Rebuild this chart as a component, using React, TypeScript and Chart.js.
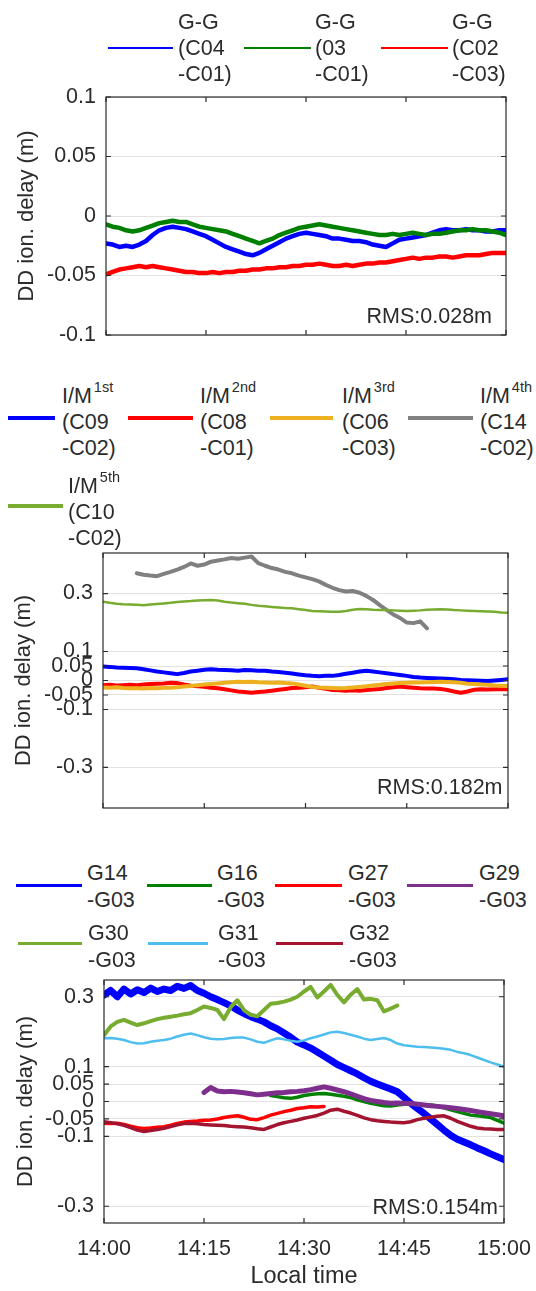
import React, { useEffect, useRef } from 'react';
import { Chart, registerables } from 'chart.js';

Chart.register(...registerables);

const FONT = "'Liberation Sans', Arial, Helvetica, sans-serif";
const INK = '#2b2b2b';
const GRID = '#e2e2e2';

// ---------- shared x axis (minutes after 14:00) ----------
const MINUTES = [
  0, 1, 2, 3, 4, 5, 6, 7, 8, 9, 10, 11, 12, 13, 14, 15, 16, 17, 18, 19, 20,
  21, 22, 23, 24, 25, 26, 27, 28, 29, 30, 31, 32, 33, 34, 35, 36, 37, 38, 39, 40,
  41, 42, 43, 44, 45, 46, 47, 48, 49, 50, 51, 52, 53, 54, 55, 56, 57, 58, 59, 60,
];
const X_TICKS = [0, 15, 30, 45, 60];
const X_TICK_LABELS = ['14:00', '14:15', '14:30', '14:45', '15:00'];

// ---------- panel 1 : G-G ----------
const P1_Y_TICKS = [-0.1, -0.05, 0, 0.05, 0.1];
const GG_C04_C01 = [
  -0.023, -0.024, -0.026, -0.025, -0.026, -0.024, -0.021, -0.016, -0.012, -0.010, -0.009,
  -0.010, -0.011, -0.013, -0.015, -0.017, -0.020, -0.023, -0.026, -0.028, -0.030,
  -0.032, -0.033, -0.031, -0.028, -0.025, -0.022, -0.019, -0.017, -0.015, -0.014,
  -0.015, -0.016, -0.017, -0.019, -0.019, -0.020, -0.021, -0.021, -0.022, -0.024,
  -0.025, -0.026, -0.023, -0.020, -0.019, -0.018, -0.017, -0.016, -0.014, -0.012,
  -0.011, -0.012, -0.012, -0.011, -0.012, -0.012, -0.013, -0.013, -0.012, -0.012,
];
const GG_03_C01 = [
  -0.007, -0.009, -0.010, -0.012, -0.013, -0.012, -0.010, -0.008, -0.006, -0.005, -0.004,
  -0.005, -0.005, -0.007, -0.009, -0.010, -0.011, -0.012, -0.013, -0.015, -0.017,
  -0.019, -0.021, -0.023, -0.021, -0.019, -0.016, -0.014, -0.012, -0.010, -0.009,
  -0.008, -0.007, -0.008, -0.009, -0.010, -0.011, -0.012, -0.013, -0.014, -0.015,
  -0.016, -0.016, -0.015, -0.016, -0.015, -0.014, -0.015, -0.016, -0.015, -0.015,
  -0.014, -0.013, -0.012, -0.012, -0.011, -0.012, -0.012, -0.013, -0.014, -0.016,
];
const GG_C02_C03 = [
  -0.049, -0.047, -0.045, -0.044, -0.043, -0.042, -0.043, -0.042, -0.043, -0.044, -0.045,
  -0.046, -0.047, -0.047, -0.048, -0.048, -0.047, -0.048, -0.047, -0.047, -0.046,
  -0.046, -0.045, -0.045, -0.044, -0.044, -0.043, -0.043, -0.042, -0.042, -0.041,
  -0.041, -0.040, -0.041, -0.042, -0.042, -0.041, -0.042, -0.041, -0.040, -0.040,
  -0.039, -0.039, -0.038, -0.037, -0.036, -0.035, -0.036, -0.035, -0.035, -0.034,
  -0.034, -0.035, -0.034, -0.033, -0.033, -0.033, -0.032, -0.031, -0.031, -0.031,
];

// ---------- panel 2 : I/M ----------
const P2_Y_TICKS = [-0.3, -0.1, -0.05, 0, 0.05, 0.1, 0.3];
const IM1_C09_C02 = [
  0.048, 0.047, 0.045, 0.044, 0.043, 0.042, 0.039, 0.035, 0.031, 0.028, 0.025,
  0.022, 0.026, 0.031, 0.034, 0.037, 0.039, 0.037, 0.036, 0.035, 0.034,
  0.036, 0.035, 0.034, 0.034, 0.031, 0.029, 0.027, 0.024, 0.021, 0.018,
  0.016, 0.015, 0.016, 0.016, 0.019, 0.023, 0.027, 0.031, 0.034, 0.031,
  0.028, 0.025, 0.022, 0.019, 0.016, 0.012, 0.010, 0.009, 0.008, 0.007,
  0.006, 0.004, 0.002, 0.001, 0.000, -0.001, -0.002, 0.000, 0.002, 0.004,
];
const IM2_C08_C01 = [
  -0.016, -0.015, -0.017, -0.016, -0.015, -0.016, -0.014, -0.012, -0.011, -0.010, -0.008,
  -0.009, -0.014, -0.018, -0.020, -0.022, -0.025, -0.027, -0.030, -0.034, -0.038,
  -0.040, -0.042, -0.040, -0.038, -0.035, -0.032, -0.029, -0.026, -0.025, -0.023,
  -0.021, -0.025, -0.029, -0.033, -0.034, -0.035, -0.034, -0.035, -0.033, -0.031,
  -0.029, -0.026, -0.023, -0.021, -0.023, -0.025, -0.027, -0.028, -0.028, -0.029,
  -0.033, -0.038, -0.042, -0.038, -0.032, -0.030, -0.031, -0.030, -0.030, -0.030,
];
const IM3_C06_C03 = [
  -0.024, -0.025, -0.023, -0.026, -0.027, -0.027, -0.028, -0.026, -0.027, -0.025, -0.025,
  -0.023, -0.021, -0.019, -0.016, -0.014, -0.012, -0.010, -0.008, -0.006, -0.004,
  -0.005, -0.004, -0.006, -0.007, -0.008, -0.007, -0.009, -0.010, -0.014, -0.018,
  -0.022, -0.024, -0.025, -0.026, -0.027, -0.026, -0.024, -0.022, -0.020, -0.017,
  -0.015, -0.012, -0.010, -0.009, -0.008, -0.007, -0.007, -0.006, -0.005, -0.004,
  -0.005, -0.006, -0.008, -0.011, -0.012, -0.014, -0.015, -0.017, -0.018, -0.019,
];
const IM4_START = 5; // C14-C02 starts at 14:05 and ends at 14:48
const IM4_C14_C02 = [
  0.370, 0.365, 0.362, 0.360, 0.368, 0.375, 0.383, 0.392, 0.404, 0.396,
  0.400, 0.410, 0.414, 0.418, 0.423, 0.420, 0.424, 0.428, 0.405, 0.396,
  0.388, 0.383, 0.375, 0.370, 0.362, 0.356, 0.350, 0.342, 0.330, 0.320,
  0.312, 0.307, 0.309, 0.303, 0.292, 0.278, 0.260, 0.244, 0.228, 0.216,
  0.200, 0.198, 0.204, 0.180,
];
const IM5_C10_C02 = [
  0.272, 0.268, 0.265, 0.263, 0.262, 0.261, 0.260, 0.262, 0.264, 0.266, 0.268,
  0.271, 0.273, 0.274, 0.276, 0.277, 0.278, 0.276, 0.272, 0.269, 0.267,
  0.265, 0.261, 0.258, 0.256, 0.254, 0.252, 0.250, 0.249, 0.246, 0.243,
  0.240, 0.239, 0.238, 0.237, 0.237, 0.240, 0.244, 0.247, 0.246, 0.244,
  0.243, 0.243, 0.242, 0.241, 0.240, 0.241, 0.242, 0.244, 0.245, 0.246,
  0.245, 0.243, 0.242, 0.241, 0.240, 0.239, 0.238, 0.237, 0.235, 0.234,
];

// ---------- panel 3 : GPS ----------
const P3_Y_TICKS = [-0.3, -0.1, -0.05, 0, 0.05, 0.1, 0.3];
const G14_G03 = [
  0.305, 0.318, 0.300, 0.322, 0.308, 0.320, 0.312, 0.325, 0.315, 0.322, 0.318,
  0.330, 0.324, 0.332, 0.318, 0.310, 0.300, 0.292, 0.283, 0.274, 0.262,
  0.252, 0.243, 0.236, 0.228, 0.217, 0.208, 0.196, 0.184, 0.170, 0.162,
  0.153, 0.142, 0.130, 0.118, 0.106, 0.097, 0.088, 0.079, 0.068, 0.058,
  0.050, 0.043, 0.036, 0.028, 0.012, -0.005, -0.020, -0.034, -0.050, -0.066,
  -0.082, -0.097, -0.108, -0.116, -0.124, -0.133, -0.141, -0.150, -0.158, -0.166,
];
const G16_START = 25;
const G16_G03 = [
  0.017, 0.014, 0.011, 0.009, 0.012, 0.017, 0.020, 0.022, 0.023, 0.021,
  0.018, 0.015, 0.011, 0.005, 0.000, -0.005, -0.009, -0.012, -0.013, -0.010,
  -0.008, -0.007, -0.008, -0.009, -0.010, -0.013, -0.018, -0.024, -0.029, -0.034,
  -0.039, -0.041, -0.043, -0.046, -0.054, -0.062,
];
const G27_G03 = [
  -0.062, -0.063, -0.062, -0.066, -0.071, -0.075, -0.077, -0.076, -0.074, -0.072, -0.068,
  -0.063, -0.059, -0.057, -0.056, -0.054, -0.053, -0.050, -0.046, -0.043, -0.041,
  -0.045, -0.051, -0.052, -0.046, -0.039, -0.034, -0.029, -0.025, -0.020, -0.018,
  -0.015, -0.016, -0.014,
];
const G29_START = 15;
const G29_G03 = [
  0.026, 0.040, 0.030, 0.028, 0.029, 0.027, 0.025, 0.022, 0.019, 0.021,
  0.023, 0.025, 0.026, 0.028, 0.029, 0.031, 0.034, 0.038, 0.042, 0.038,
  0.033, 0.028, 0.022, 0.015, 0.008, 0.003, 0.000, -0.003, -0.005, -0.004,
  -0.005, -0.006, -0.008, -0.010, -0.012, -0.014, -0.016, -0.018, -0.020, -0.023,
  -0.026, -0.029, -0.032, -0.035, -0.038, -0.041,
];
const G30_G03 = [
  0.190, 0.215, 0.228, 0.234, 0.226, 0.219, 0.224, 0.230, 0.236, 0.240, 0.243,
  0.246, 0.250, 0.253, 0.262, 0.272, 0.268, 0.262, 0.236, 0.270, 0.290,
  0.262, 0.248, 0.244, 0.262, 0.280, 0.282, 0.286, 0.292, 0.300, 0.315,
  0.328, 0.298, 0.315, 0.334, 0.305, 0.284, 0.306, 0.322, 0.292, 0.294,
  0.290, 0.258, 0.266, 0.275,
];
const G31_G03 = [
  0.181, 0.182, 0.180, 0.176, 0.170, 0.166, 0.167, 0.171, 0.174, 0.176, 0.180,
  0.186, 0.191, 0.195, 0.190, 0.184, 0.180, 0.178, 0.179, 0.182, 0.183,
  0.183, 0.178, 0.171, 0.168, 0.175, 0.181, 0.178, 0.174, 0.171, 0.175,
  0.181, 0.186, 0.192, 0.198, 0.200, 0.196, 0.191, 0.186, 0.180, 0.176,
  0.179, 0.182, 0.176, 0.166, 0.161, 0.159, 0.157, 0.156, 0.155, 0.153,
  0.151, 0.148, 0.142, 0.138, 0.133, 0.126, 0.119, 0.112, 0.106, 0.100,
];
const G32_G03 = [
  -0.058, -0.061, -0.064, -0.068, -0.075, -0.082, -0.086, -0.083, -0.080, -0.077, -0.072,
  -0.067, -0.063, -0.062, -0.064, -0.066, -0.067, -0.068, -0.069, -0.071, -0.072,
  -0.073, -0.075, -0.078, -0.080, -0.073, -0.066, -0.061, -0.057, -0.053, -0.048,
  -0.044, -0.040, -0.033, -0.025, -0.022, -0.028, -0.033, -0.040, -0.047, -0.052,
  -0.055, -0.057, -0.059, -0.060, -0.061, -0.058, -0.052, -0.048, -0.045, -0.042,
  -0.041, -0.048, -0.057, -0.064, -0.071, -0.076, -0.078, -0.079, -0.080, -0.080,
];

// ---------- legend labels ----------
const P1_LABELS = [
  ['G-G', '(C04', '-C01)'],
  ['G-G', '(03', '-C01)'],
  ['G-G', '(C02', '-C03)'],
];
const P2_ORDINALS = ['1st', '2nd', '3rd', '4th', '5th'];
const P2_LABELS = [
  ['(C09', '-C02)'],
  ['(C08', '-C01)'],
  ['(C06', '-C03)'],
  ['(C14', '-C02)'],
  ['(C10', '-C02)'],
];
const P3_LABELS = [
  ['G14', '-G03'], ['G16', '-G03'], ['G27', '-G03'], ['G29', '-G03'],
  ['G30', '-G03'], ['G31', '-G03'], ['G32', '-G03'],
];
const RMS_TEXT = ['RMS:0.028m', 'RMS:0.182m', 'RMS:0.154m'];

// ---------- colours ----------
const BLUE = '#0000ff';
const GREEN = '#008000';
const RED = '#ff0000';
const ORANGE = '#edb120';
const GREY = '#808080';
const LGREEN = '#77ac30';
const PURPLE = '#7e2f8e';
const LBLUE = '#4dbeee';
const DRED = '#a2142f';

type Series = { label: string; values: number[]; start: number; color: string; width: number };

const toPoints = (values: number[], start: number) =>
  values.map((v, i) => ({ x: MINUTES[start + i], y: v }));

const framePlugin = {
  id: 'frame',
  afterDraw(chart: any) {
    const { ctx, chartArea: a, scales } = chart;
    const x = scales.x;
    const y = scales.y;
    ctx.save();
    ctx.strokeStyle = INK;
    ctx.lineWidth = 1.2;
    ctx.strokeRect(a.left, a.top, a.right - a.left, a.bottom - a.top);
    const L = 5;
    ctx.beginPath();
    x.ticks.forEach((t: any) => {
      const px = x.getPixelForValue(t.value);
      ctx.moveTo(px, a.bottom);
      ctx.lineTo(px, a.bottom - L);
      ctx.moveTo(px, a.top);
      ctx.lineTo(px, a.top + L);
    });
    y.ticks.forEach((t: any) => {
      const py = y.getPixelForValue(t.value);
      ctx.moveTo(a.left, py);
      ctx.lineTo(a.left + L, py);
      ctx.moveTo(a.right, py);
      ctx.lineTo(a.right - L, py);
    });
    ctx.stroke();
    ctx.restore();
  },
};

const rmsPlugin = {
  id: 'rms',
  afterDatasetsDraw(chart: any, _args: any, opts: any) {
    const { ctx, chartArea: a } = chart;
    ctx.save();
    ctx.font = `21.5px ${FONT}`;
    ctx.textAlign = 'right';
    ctx.textBaseline = 'middle';
    const xr = a.right - opts.dx;
    const yc = a.bottom - opts.dy;
    if (opts.bg) {
      const w = ctx.measureText(opts.text).width;
      ctx.fillStyle = '#ffffff';
      ctx.fillRect(xr - w - 2, yc - 11, w + 4, 22);
    }
    ctx.fillStyle = INK;
    ctx.fillText(opts.text, xr, yc);
    ctx.restore();
  },
};

type PanelSpec = {
  series: Series[];
  yMin: number;
  yMax: number;
  yTicks: number[];
  padTop: number;
  padRight: number;
  yWidth: number;
  xHeight: number;
  titlePad: number;
  showX: boolean;
  rms: { text: string; dx: number; dy: number; bg: boolean };
};

function makeChart(canvas: HTMLCanvasElement, spec: PanelSpec) {
  const n = spec.series.length;
  return new Chart(canvas, {
    type: 'line',
    data: {
      datasets: spec.series.map((s, i) => ({
        label: s.label,
        data: toPoints(s.values, s.start),
        borderColor: s.color,
        backgroundColor: s.color,
        borderWidth: s.width,
        pointRadius: 0,
        tension: 0,
        fill: false,
        borderJoinStyle: 'round',
        borderCapStyle: 'round',
        order: n - i,
      })),
    },
    options: {
      animation: false,
      responsive: false,
      maintainAspectRatio: false,
      events: [],
      layout: { padding: { top: spec.padTop, right: spec.padRight, left: 0, bottom: 0 } },
      plugins: {
        legend: { display: false },
        tooltip: { enabled: false },
        rms: spec.rms,
      } as any,
      scales: {
        x: {
          type: 'linear',
          min: 0,
          max: 60,
          afterBuildTicks: (s: any) => {
            s.ticks = X_TICKS.map((v) => ({ value: v }));
          },
          afterFit: (s: any) => {
            s.height = spec.xHeight;
            s.paddingLeft = 0;
            s.paddingRight = 0;
          },
          ticks: {
            display: spec.showX,
            autoSkip: false,
            maxRotation: 0,
            padding: 13,
            color: INK,
            font: { family: FONT, size: 21.5 },
            callback: (v: any) => X_TICK_LABELS[X_TICKS.indexOf(Number(v))],
          },
          grid: { display: false, drawTicks: false },
          border: { display: false },
          title: {
            display: spec.showX,
            text: 'Local time',
            color: INK,
            font: { family: FONT, size: 23.5 },
            padding: { top: 0, bottom: 0 },
          },
        },
        y: {
          type: 'linear',
          min: spec.yMin,
          max: spec.yMax,
          afterBuildTicks: (s: any) => {
            s.ticks = spec.yTicks.map((v) => ({ value: v }));
          },
          afterFit: (s: any) => {
            s.width = spec.yWidth;
            s.paddingTop = 0;
            s.paddingBottom = 0;
          },
          ticks: {
            autoSkip: false,
            padding: 10,
            color: INK,
            font: { family: FONT, size: 21.5 },
            callback: (v: any) => String(v),
          },
          grid: { color: GRID, lineWidth: 1, drawTicks: false },
          border: { display: false },
          title: {
            display: true,
            text: 'DD ion. delay (m)',
            color: INK,
            font: { family: FONT, size: 22 },
            padding: { top: spec.titlePad, bottom: 0 },
          },
        },
      },
    } as any,
    plugins: [framePlugin, rmsPlugin],
  });
}

const PANEL1: PanelSpec = {
  series: [
    { label: 'G-G (C04-C01)', values: GG_C04_C01, start: 0, color: BLUE, width: 4.5 },
    { label: 'G-G (03-C01)', values: GG_03_C01, start: 0, color: GREEN, width: 4.5 },
    { label: 'G-G (C02-C03)', values: GG_C02_C03, start: 0, color: RED, width: 4.5 },
  ],
  yMin: -0.1,
  yMax: 0.1,
  yTicks: P1_Y_TICKS,
  padTop: 27,
  padRight: 30,
  yWidth: 106,
  xHeight: 25,
  titlePad: 13.3,
  showX: false,
  rms: { text: RMS_TEXT[0], dx: 14, dy: 18, bg: false },
};

const PANEL2: PanelSpec = {
  series: [
    { label: 'I/M 1st (C09-C02)', values: IM1_C09_C02, start: 0, color: BLUE, width: 4 },
    { label: 'I/M 2nd (C08-C01)', values: IM2_C08_C01, start: 0, color: RED, width: 4 },
    { label: 'I/M 3rd (C06-C03)', values: IM3_C06_C03, start: 0, color: ORANGE, width: 4 },
    { label: 'I/M 4th (C14-C02)', values: IM4_C14_C02, start: IM4_START, color: GREY, width: 4 },
    { label: 'I/M 5th (C10-C02)', values: IM5_C10_C02, start: 0, color: LGREEN, width: 2.5 },
  ],
  yMin: -0.44,
  yMax: 0.44,
  yTicks: P2_Y_TICKS,
  padTop: 13,
  padRight: 28,
  yWidth: 103,
  xHeight: 22,
  titlePad: 10.8,
  showX: false,
  rms: { text: RMS_TEXT[1], dx: 5.5, dy: 20, bg: false },
};

const PANEL3: PanelSpec = {
  series: [
    { label: 'G14-G03', values: G14_G03, start: 0, color: BLUE, width: 7 },
    { label: 'G16-G03', values: G16_G03, start: G16_START, color: GREEN, width: 3.5 },
    { label: 'G27-G03', values: G27_G03, start: 0, color: RED, width: 3.5 },
    { label: 'G29-G03', values: G29_G03, start: G29_START, color: PURPLE, width: 5 },
    { label: 'G30-G03', values: G30_G03, start: 0, color: LGREEN, width: 4 },
    { label: 'G31-G03', values: G31_G03, start: 0, color: LBLUE, width: 2.5 },
    { label: 'G32-G03', values: G32_G03, start: 0, color: DRED, width: 3.5 },
  ],
  yMin: -0.348,
  yMax: 0.348,
  yTicks: P3_Y_TICKS,
  padTop: 20,
  padRight: 32,
  yWidth: 104,
  xHeight: 68,
  titlePad: 12.3,
  showX: true,
  rms: { text: RMS_TEXT[2], dx: 6, dy: 15, bg: true },
};

type LegendEntry = {
  color: string;
  thick: number;
  lineX: number;
  lineW: number;
  lineY: number;
  textX: number;
  textTop: number;
  lh: number;
  lines: React.ReactNode[];
};

const P1_LEGEND: LegendEntry[] = [
  { color: BLUE, thick: 2, lineX: 108, lineW: 65, lineY: 48, textX: 178, textTop: 9.2, lh: 26, lines: P1_LABELS[0] },
  { color: GREEN, thick: 2, lineX: 244, lineW: 67, lineY: 48, textX: 315, textTop: 9.2, lh: 26, lines: P1_LABELS[1] },
  { color: RED, thick: 2, lineX: 381, lineW: 67, lineY: 48, textX: 452, textTop: 9.2, lh: 26, lines: P1_LABELS[2] },
];

const imHead = (k: number) => (
  <span>
    I/M
    <span style={{ fontSize: 14.5, position: 'relative', top: -11, marginLeft: 2, lineHeight: 0 }}>
      {P2_ORDINALS[k]}
    </span>
  </span>
);

const P2_GEOM = [
  { color: BLUE, lineX: 8, lineW: 47, lineY: 418, textX: 62, textTop: 383.2 },
  { color: RED, lineX: 128, lineW: 65, lineY: 418, textX: 200, textTop: 383.2 },
  { color: ORANGE, lineX: 270, lineW: 63, lineY: 418, textX: 342, textTop: 383.2 },
  { color: GREY, lineX: 408, lineW: 65, lineY: 418, textX: 480, textTop: 383.2 },
  { color: LGREEN, lineX: 8, lineW: 55, lineY: 506, textX: 68, textTop: 473.2 },
];
const P2_LEGEND: LegendEntry[] = P2_GEOM.map((g, k) => ({
  ...g,
  thick: 3.5,
  lh: 26,
  lines: [imHead(k), ...P2_LABELS[k]],
}));

const P3_GEOM = [
  { color: BLUE, lineX: 16, lineW: 66, lineY: 885, textX: 87, textTop: 859.7 },
  { color: GREEN, lineX: 147, lineW: 65, lineY: 885, textX: 217, textTop: 859.7 },
  { color: RED, lineX: 275, lineW: 67, lineY: 885, textX: 348, textTop: 859.7 },
  { color: PURPLE, lineX: 407, lineW: 66, lineY: 885, textX: 479, textTop: 859.7 },
  { color: LGREEN, lineX: 18, lineW: 64, lineY: 943, textX: 88, textTop: 919.7 },
  { color: LBLUE, lineX: 148, lineW: 60, lineY: 943, textX: 218, textTop: 919.7 },
  { color: DRED, lineX: 276, lineW: 67, lineY: 943, textX: 349, textTop: 919.7 },
];
const P3_LEGEND: LegendEntry[] = P3_GEOM.map((g, k) => ({
  ...g,
  thick: 3,
  lh: 27,
  lines: P3_LABELS[k],
}));

function Legend({ entries }: { entries: LegendEntry[] }) {
  return (
    <>
      {entries.map((e, i) => (
        <React.Fragment key={i}>
          <div
            style={{
              position: 'absolute',
              left: e.lineX,
              top: e.lineY - e.thick / 2,
              width: e.lineW,
              height: e.thick,
              background: e.color,
            }}
          />
          <div
            style={{
              position: 'absolute',
              left: e.textX,
              top: e.textTop,
              fontFamily: FONT,
              fontSize: 21.5,
              lineHeight: `${e.lh}px`,
              color: INK,
              whiteSpace: 'pre',
            }}
          >
            {e.lines.map((ln, j) => (
              <div key={j}>{ln}</div>
            ))}
          </div>
        </React.Fragment>
      ))}
    </>
  );
}

const CANVASES = [
  { top: 70, height: 290, spec: PANEL1 },
  { top: 540, height: 290, spec: PANEL2 },
  { top: 960, height: 331, spec: PANEL3 },
];

export default function App() {
  const r1 = useRef<HTMLCanvasElement>(null);
  const r2 = useRef<HTMLCanvasElement>(null);
  const r3 = useRef<HTMLCanvasElement>(null);
  const refs = [r1, r2, r3];

  useEffect(() => {
    Chart.defaults.font.family = FONT;
    Chart.defaults.color = INK;
    const charts = CANVASES.map((c, i) => makeChart(refs[i].current as HTMLCanvasElement, c.spec));
    return () => charts.forEach((ch) => ch.destroy());
  }, []);

  return (
    <div
      style={{
        position: 'absolute',
        left: 0,
        top: 0,
        width: 536,
        height: 1291,
        background: '#ffffff',
        overflow: 'hidden',
      }}
    >
      {CANVASES.map((c, i) => (
        <canvas
          key={i}
          ref={refs[i]}
          width={536}
          height={c.height}
          style={{ position: 'absolute', left: 0, top: c.top, width: 536, height: c.height, display: 'block' }}
        />
      ))}
      <Legend entries={P1_LEGEND} />
      <Legend entries={P2_LEGEND} />
      <Legend entries={P3_LEGEND} />
    </div>
  );
}
